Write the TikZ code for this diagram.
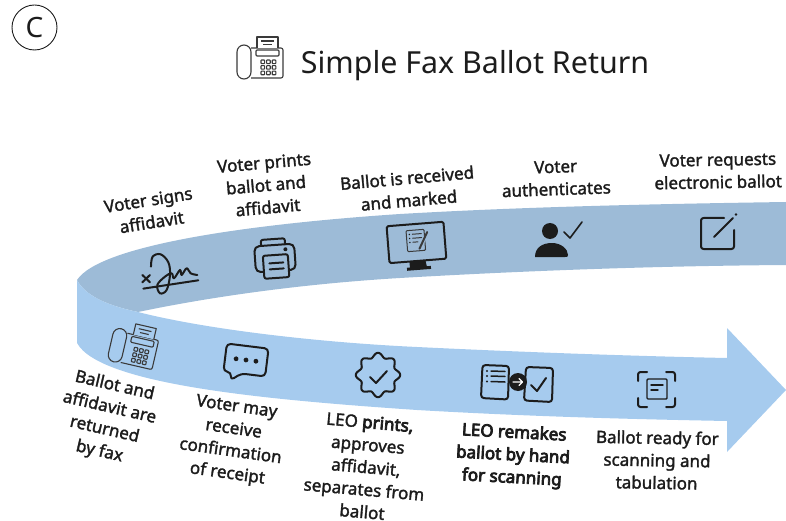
\documentclass[tikz,border=0pt]{standalone}
\usepackage{fontspec}
\setmainfont{Noto Sans}
\newcommand{\weighted}[2]{\special{pdf:code 2 Tr #1 w}#2\special{pdf:code 0 Tr}}
\newcommand{\labm}[1]{\weighted{0.3}{#1}}
\newcommand{\labb}[1]{\weighted{0.75}{#1}}
\definecolor{bandback}{HTML}{9DBBD7}
\definecolor{bandfront}{HTML}{A6CBEE}
\definecolor{ink}{HTML}{1C1C1C}
\definecolor{grayink}{HTML}{3A3A3A}
\newcommand{\faxicon}[1]{%
  \draw[rounded corners=7pt,fill=#1] (-23,-13) rectangle (-9,21);
  \draw[rounded corners=2pt] (-9,-10) -- (23,-10) -- (23,20) -- (-9,20);
  \draw[fill=#1] (-3,-10) -- (-3,-21) -- (18,-21) -- (18,-10);
  \draw (1,-17) -- (14,-17) (3,-13.5) -- (12,-13.5);
  \draw[rounded corners=1pt] (-4,-8) rectangle (19,-2);
  \foreach \i in {0,1,2}\foreach \j in {0,1,2}
    \draw[rounded corners=.6pt] (1+5.6*\i,2+5.6*\j) rectangle ++(3.6,3.6);
}
\tikzset{
  lab/.style={font=\fontsize{17}{22.5}\selectfont,text=ink,align=center,inner sep=0pt},
  icon/.style={draw=ink,line width=2pt,line join=round,line cap=round},
  thinicon/.style={draw=grayink,line width=1.1pt,line join=round},
}
\begin{document}
\begin{tikzpicture}[x=1pt,y=-1pt]
\useasboundingbox (0,0) rectangle (786,521);
% back band
\fill[bandback] (786,202) .. controls (650,204) and (520,207) .. (400,214)
  .. controls (250,224) and (100,245) .. (77,280)
  .. controls (85,295) and (105,305) .. (138,312)
  .. controls (210,297) and (300,284) .. (400,278)
  .. controls (520,271) and (650,266) .. (786,265) -- cycle;
% front band with arrow head
\fill[bandfront] (77,280) .. controls (85,295) and (105,305) .. (138,312)
  .. controls (200,328) and (310,342) .. (417,347)
  .. controls (520,352) and (630,356) .. (727,358)
  -- (727,328) -- (786,390) -- (727,452) -- (727,421)
  .. controls (620,419) and (520,416) .. (417,410)
  .. controls (270,400) and (100,385) .. (77,343) -- cycle;
% header
\node[circle,draw=ink,line width=.9pt,minimum size=45pt,inner sep=0pt,font=\fontsize{28}{30}\selectfont,text=ink] (badge) at (34.5,27.5) {C};
\node[font=\fontsize{30.4}{36}\selectfont,text=ink,inner sep=0pt] (title) at (475,66) {Simple Fax Ballot Return};
\begin{scope}[shift={(260,58)},thinicon]\faxicon{white}\end{scope}
% upper labels
\node[lab,rotate=9] (s1) at (150,211) {\labm{Voter signs}\\\labm{affidavit}};
\node[lab,rotate=5] (s2) at (266,185) {\labm{Voter prints}\\\labm{ballot and}\\\labm{affidavit}};
\node[lab,rotate=5] (s3) at (408,189) {\labm{Ballot is received}\\\labm{and marked}};
\node[lab,rotate=2] (s4) at (556,178) {\labm{Voter}\\\labm{authenticates}};
\node[lab,rotate=1] (s5) at (718,171) {\labm{Voter requests}\\\labm{electronic ballot}};
% lower labels
\node[lab,rotate=-13] (r1) at (107,419) {\labm{Ballot and}\\\labm{affidavit are}\\\labm{returned}\\\labm{by fax}};
\node[lab,rotate=-8] (r2) at (232,441) {\labm{Voter may}\\\labm{receive}\\\labm{confirmation}\\\labm{of receipt}};
\node[lab,rotate=-5] (r3) at (366,467) {\labm{LEO} \labb{prints,}\\\labm{approves}\\\labm{affidavit,}\\\labm{separates from}\\\labm{ballot}};
\node[lab,rotate=-3] (r4) at (513,456) {\labb{LEO remakes}\\\labb{ballot by hand}\\\labb{for scanning}};
\node[lab,rotate=-1] (r5) at (657,460) {\labm{Ballot ready for}\\\labm{scanning and}\\\labm{tabulation}};
% signature
\begin{scope}[x=.3333pt,y=-.3333pt,shift={(210,675)},icon]
  \draw (217,150) -- (240,172) (240,150) -- (217,172);
  \draw (220,191) -- (385,166);
  \draw plot[smooth,tension=.6] coordinates {(243,125) (248,95) (272,88) (295,112) (300,150) (290,195) (270,205) (262,180) (285,155) (305,145) (312,160) (330,135) (335,150) (350,130) (362,145) (382,150)};
\end{scope}
% printer
\begin{scope}[shift={(275,258)},rotate=4,icon]
  \draw[rounded corners=2pt] (-13,-14) -- (-13,-19) -- (11,-19) -- (11,-14);
  \draw[rounded corners=5pt] (-12,13) -- (-20,13) -- (-20,-13) -- (20,-13) -- (20,13) -- (12,13);
  \draw[rounded corners=2pt,fill=bandback] (-12,-3) rectangle (13,20);
  \draw (-6,5) -- (8,5) (-6,11) -- (8,11);
  \fill[ink] (11,-8) circle (2);
\end{scope}
% monitor
\begin{scope}[shift={(416,243)},rotate=4.5,icon]
  \draw[rounded corners=1.5pt] (-28,-19) rectangle (29,18);
  \fill[ink] (-8,18) -- (8,18) -- (9,24) -- (13,24) -- (13,27) -- (-11,27) -- (-11,24) -- (-8,24) -- cycle;
  \begin{scope}[draw=grayink,line width=1pt]
    \draw[rounded corners=1pt] (-9,-13) rectangle (9,8);
    \draw (-3,-9) -- (6,-9) (-3,-5) -- (6,-5) (-3,-1) -- (2,-1);
    \fill[ink] (-6,-9) circle (.8) (-6,-5) circle (.8) (-6,-1) circle (.8);
    \draw[line width=3pt,bandback] (3,6) -- (14,-11);
    \draw[line width=2pt,grayink] (3,6) -- (12,-10);
  \end{scope}
\end{scope}
% person
\fill[ink] (550,231) circle (8);
\fill[ink] (535,257) .. controls (535,247) and (543,243) .. (552,243) .. controls (561,243) and (568,249) .. (568,255) .. controls (568,257) and (567,257) .. (565,257) -- cycle;
\draw[icon,line width=1.6pt] (564,232) -- (570,238) -- (582,222);
% edit icon
\draw[icon,rounded corners=2.5pt] (724,218) -- (701,218) -- (701,249) -- (734,249) -- (734,230);
\draw[icon] (714,237) -- (733,218);
\fill[ink] (736,214.5) circle (1.3);
% phone fax in band
\begin{scope}[shift={(134,345)},rotate=-13,thinicon]\faxicon{bandfront}\end{scope}
% chat
\begin{scope}[shift={(246,360)},rotate=-7,icon]
  \draw[rounded corners=4pt] (-21,-14) -- (21,-14) -- (21,14) -- (-3,14) -- (-13,22) -- (-13,14) -- (-21,14) -- cycle;
  \fill[ink] (-10,0) circle (2.4) (0,0) circle (2.4) (10,0) circle (2.4);
\end{scope}
% badge
\draw[icon] plot[domain=0:360,samples=120,smooth] ({378+(20+2.2*cos(8*\x))*cos(\x)},{375+(20+2.2*cos(8*\x))*sin(\x)}) -- cycle;
\draw[icon] (370,377) -- (376,383) -- (387,371);
% remake
\begin{scope}[icon]
  \draw[rounded corners=3pt] (482.5,365) -- (509,366) -- (508,399.5) -- (481,398) -- cycle;
  \draw[line width=1.5pt] (491,371) -- (505,371.5) (491,376) -- (505,376.5) (491,381.5) -- (505,382);
  \fill[ink] (487,371) circle (1.2) (487,376) circle (1.2) (487,381.5) circle (1.2);
  \draw[rounded corners=3pt] (526,367) -- (553,368) -- (552,402) -- (524,400.5) -- cycle;
  \draw (531,385) -- (537,391) -- (546,378);
  \fill[ink] (518,382) circle (9);
  \draw[white,line width=1.2pt] (513,382) -- (522,382) (519,378.5) -- (522.5,382) -- (519,385.5);
\end{scope}
% scan
\begin{scope}[icon]
  \draw[rounded corners=2.5pt] (638,381) -- (638,372) -- (647,372) (666,372) -- (675,372) -- (675,381)
     (675,398) -- (675,407) -- (666,407) (647,407) -- (638,407) -- (638,398);
  \draw[rounded corners=1pt,line width=1.4pt] (647,379) rectangle (667,399);
  \draw[line width=1.4pt] (651,385) -- (663,385) (651,390) -- (658,390);
\end{scope}
\end{tikzpicture}
\end{document}
